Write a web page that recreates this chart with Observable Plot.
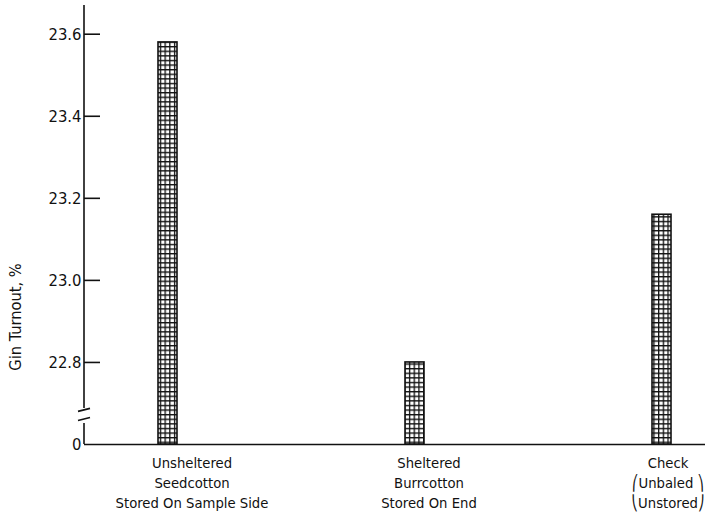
<!DOCTYPE html>
<html><head><meta charset="utf-8">
<script src="https://cdn.jsdelivr.net/npm/d3@7"></script>
<script src="https://cdn.jsdelivr.net/npm/@observablehq/plot@0.6"></script>
<style>body{margin:0;background:#fff}</style>
</head><body><div id="chart"></div>
<script>
// ---- data ----
const categories = [
  "Unsheltered\nSeedcotton\nStored On Sample Side",
  "Sheltered\nBurrcotton\nStored On End",
  "Check\n⎛Unbaled ⎞\n⎝Unstored⎠"
];
const turnout = [23.58, 22.80, 23.16];
const yTicks = [22.6, 22.8, 23.0, 23.2, 23.4, 23.6];
const yTickLabels = ["0", "22.8", "23.0", "23.2", "23.4", "23.6"];
const yBase = 22.6;      // drawn as "0" (broken axis)
const yTop = 23.67;
const breakHi = 22.688, breakLo = 22.651;
const axisTitle = "Gin Turnout, %";

const data = categories.map((c, i) => ({cat: c, value: turnout[i]}));
const ink = "#111";
const font = "'DejaVu Sans Condensed', 'DejaVu Sans', sans-serif";
const labelShift = [24, 14, 6]; // hand-lettered labels sit right of their bars

function defs() {
  const g = d3.create("svg:g");
  const p = g.append("defs").append("pattern").attr("id", "xhatch")
    .attr("patternUnits", "userSpaceOnUse").attr("width", 4.7).attr("height", 4.6);
  p.append("rect").attr("width", 4.7).attr("height", 4.6).attr("fill", "#fff");
  p.append("path").attr("d", "M0,0.65H4.7M0.65,0V4.6").attr("stroke", ink).attr("stroke-width", 1.3);
  return g.node();
}

function yAxisLine(index, scales, values, dims) {
  const y = scales.y, x0 = dims.marginLeft;
  const g = d3.create("svg:g").attr("stroke", ink).attr("stroke-width", 1.6).attr("fill", "none");
  g.append("line").attr("x1", x0).attr("x2", x0).attr("y1", y(yTop)).attr("y2", y(breakHi));
  g.append("line").attr("x1", x0).attr("x2", x0).attr("y1", y(breakLo)).attr("y2", y(yBase));
  for (const yy of [y(breakHi) + 2, y(breakLo) - 4]) {
    g.append("line").attr("x1", x0 - 6).attr("x2", x0 + 6).attr("y1", yy + 1.5).attr("y2", yy - 1.5);
  }
  return g.node();
}

const chart = Plot.plot({
  width: 718,
  height: 512,
  marginLeft: 84,
  marginRight: 13,
  marginTop: 5,
  marginBottom: 68,
  style: {fontFamily: font, background: "#fff", color: ink},
  x: {type: "band", domain: categories, range: [157, 671.5], paddingInner: 0.9233, paddingOuter: 0, label: null},
  y: {domain: [yBase, yTop], label: null},
  marks: [
    defs,
    Plot.ruleY([yBase], {stroke: ink, strokeWidth: 1.6}),
    Plot.barY(data, {x: "cat", y1: () => yBase, y2: "value", fill: "url(#xhatch)", stroke: ink, strokeWidth: 1.6}),
    Plot.axisY(yTicks.slice(1), {tickSize: 16, dx: 16, tickFormat: () => "", strokeWidth: 1.6, stroke: ink, label: null}),
    Plot.axisY(yTicks, {tickSize: 0, tickPadding: 3, fontSize: 16.5, fill: ink,
      tickFormat: d => yTickLabels[yTicks.indexOf(d)], label: null}),
    ...categories.map((c, i) =>
      Plot.axisX([c], {tickSize: 0, tickPadding: 9, dx: labelShift[i], fontSize: 14.7, lineHeight: 1.37, fill: ink, label: null})),
    Plot.text([axisTitle], {frameAnchor: "left", textAnchor: "middle", rotate: -90, dx: -69, dy: 92, fontSize: 16.3, fill: ink}),
    yAxisLine
  ]
});
document.getElementById("chart").appendChild(chart);
</script>
</body></html>
